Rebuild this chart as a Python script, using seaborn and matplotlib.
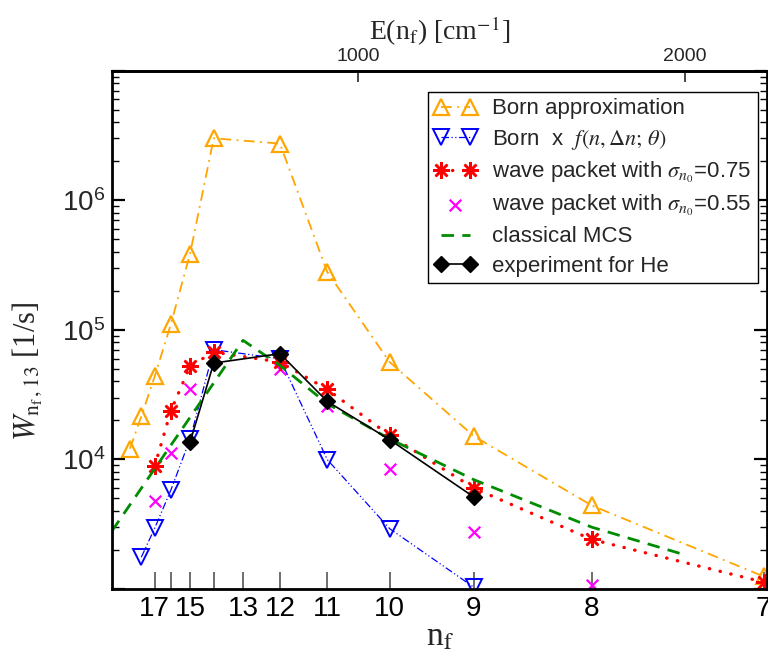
import numpy as np
import matplotlib
matplotlib.use("Agg")
import matplotlib.pyplot as plt
import seaborn as sns
from matplotlib.ticker import FixedLocator, LogLocator, NullFormatter

# ---------------- data ----------------
R_CM = 109737.3  # Rydberg constant [cm^-1], E(n_f) = R / n_f^2

n_born = [19, 18, 17, 16, 15, 14, 12, 11, 10, 9, 8, 7]
w_born = [1.21e4, 2.15e4, 4.38e4, 1.10e5, 3.88e5, 3.01e6, 2.74e6, 2.79e5,
          5.64e4, 1.51e4, 4.41e3, 1.25e3]

n_bornf = [18, 17, 16, 15, 14, 12, 11, 10, 9]
w_bornf = [1.76e3, 2.95e3, 5.77e3, 1.44e4, 7.03e4, 5.99e4, 9.95e3, 2.92e3, 1.03e3]

n_wp75 = [17, 16, 15, 14, 12, 11, 10, 9, 8, 7]
w_wp75 = [8.88e3, 2.36e4, 5.25e4, 6.74e4, 5.64e4, 3.47e4, 1.53e4, 6.0e3,
          2.41e3, 1.13e3]

n_wp55 = [17, 16, 15, 14, 12, 11, 10, 9, 8]
w_wp55 = [4.76e3, 1.13e4, 3.52e4, 6.24e4, 5.01e4, 2.60e4, 8.37e3, 2.75e3, 1.08e3]

n_mcs = [21, 13, 12, 11, 10, 9, 8, 7.43]
w_mcs = [2.8e3, 8.30e4, 5.32e4, 2.69e4, 1.44e4, 6.97e3, 3.0e3, 1.87e3]

n_exp = [15, 14, 12, 11, 10, 9]
w_exp = [1.36e4, 5.54e4, 6.55e4, 2.80e4, 1.42e4, 5.12e3]

n_ticks = [17, 16, 15, 14, 13, 12, 11, 10, 9, 8, 7]
n_tick_labels = ["17", "", "15", "", "13", "12", "11", "10", "9", "8", "7"]
e_ticks = [1000, 2000]

labels = ["Born approximation",
          r"Born  x  $f(n,\Delta n;\,\theta)$",
          r"wave packet with $\sigma_{n_0}$=0.75",
          r"wave packet with $\sigma_{n_0}$=0.55",
          "classical MCS",
          "experiment for He"]


def energy(n):
    return R_CM / np.asarray(n, dtype=float) ** 2


# ---------------- style ----------------
sns.set_theme(style="ticks")
plt.rcParams["font.family"] = ["Liberation Sans", "DejaVu Sans"]
plt.rcParams["mathtext.fontset"] = "stix"
SERIF = ["Liberation Serif", "DejaVu Serif"]

fig = plt.figure(figsize=(7.68, 6.55), dpi=100)
ax = fig.add_axes([0.1462, 0.1008, 0.8525, 0.7912])

# Born approximation
sns.lineplot(x=energy(n_born), y=w_born, ax=ax, estimator=None, sort=False,
             color="orange", linestyle=(0, (6, 3, 1, 3)), linewidth=1.3,
             marker="^", markersize=11, markerfacecolor="none",
             markeredgecolor="orange", markeredgewidth=1.6, label=labels[0])
# Born x f
sns.lineplot(x=energy(n_bornf), y=w_bornf, ax=ax, estimator=None, sort=False,
             color="blue", linestyle=(0, (6, 2, 1, 2, 1, 2)), linewidth=0.9,
             marker="v", markersize=11, markerfacecolor="none",
             markeredgecolor="blue", markeredgewidth=1.4, label=labels[1])
# wave packet 0.75
sns.lineplot(x=energy(n_wp75), y=w_wp75, ax=ax, estimator=None, sort=False,
             color="red", linestyle=(0, (0.1, 3.2)), linewidth=2.4,
             dash_capstyle="round", marker=(8, 2, 0), markersize=12,
             markeredgecolor="red", markeredgewidth=1.8, label=labels[2])
# wave packet 0.55
sns.scatterplot(x=energy(n_wp55), y=w_wp55, ax=ax, color="magenta",
                marker="x", s=70, linewidth=1.6, label=labels[3])
# classical MCS
sns.lineplot(x=energy(n_mcs), y=w_mcs, ax=ax, estimator=None, sort=False,
             color="#008c00", linestyle=(0, (4.5, 3)), linewidth=2.0,
             label=labels[4])
# experiment
sns.lineplot(x=energy(n_exp), y=w_exp, ax=ax, estimator=None, sort=False,
             color="black", linestyle="-", linewidth=1.2,
             marker="D", markersize=8, markerfacecolor="black",
             markeredgecolor="black", markeredgewidth=1.0, label=labels[5])

# ---------------- axes ----------------
ax.set_yscale("log")
ax.set_xlim(250, 2250)
ax.set_ylim(1e3, 1e7)

for sp in ax.spines.values():
    sp.set_linewidth(2.0)
    sp.set_color("black")
    sp.set_visible(True)

ax.set_yticks([1e3, 1e4, 1e5, 1e6, 1e7])
ax.set_yticklabels(["", r"$\mathregular{10^{4}}$", r"$\mathregular{10^{5}}$",
                    r"$\mathregular{10^{6}}$", ""])
ax.yaxis.set_minor_locator(LogLocator(base=10, subs=np.arange(2, 10), numticks=20))
ax.yaxis.set_minor_formatter(NullFormatter())
ax.tick_params(axis="y", which="major", direction="in", left=True, right=True,
               length=9.5, width=1.6, labelsize=20, pad=5, color="black")
ax.tick_params(axis="y", which="minor", direction="in", left=True, right=True,
               length=5, width=1.0, color="black")

ax.xaxis.set_major_locator(FixedLocator(energy(n_ticks)))
ax.set_xticklabels(n_tick_labels)
ax.xaxis.set_minor_locator(FixedLocator([]))
ax.tick_params(axis="x", which="major", direction="in", bottom=True, top=False,
               length=12, width=1.2, color="#555555", labelsize=20, pad=5,
               labelcolor="black")

sec = ax.secondary_xaxis("top")
sec.set_xticks(e_ticks)
sec.set_xticklabels([str(v) for v in e_ticks])
sec.tick_params(axis="x", direction="in", length=8, width=1.2, labelsize=14,
                pad=4)
sec.spines["top"].set_linewidth(2.0)
sec.set_xlabel(r"E(n$_\mathrm{f}$) [cm$^{-1}$]", fontsize=20, family=SERIF,
               labelpad=6)

ax.set_xlabel(r"n$_\mathrm{f}$", fontsize=24, family=SERIF, labelpad=0)
ax.set_ylabel(r"$W_{\mathrm{n_f}\,,13}$ [1/s]", fontsize=22, family=SERIF)
ax.yaxis.set_label_coords(-0.105, 0.42)

leg = ax.legend(loc="upper right", bbox_to_anchor=(0.986, 0.9595),
                numpoints=2, scatterpoints=1, fontsize=16, frameon=True,
                fancybox=False, edgecolor="black", framealpha=1,
                handlelength=1.9, handletextpad=0.7, labelspacing=0.37,
                borderpad=0.3, borderaxespad=0)
leg.get_frame().set_linewidth(1.0)

fig.savefig("out.png", dpi=100)
